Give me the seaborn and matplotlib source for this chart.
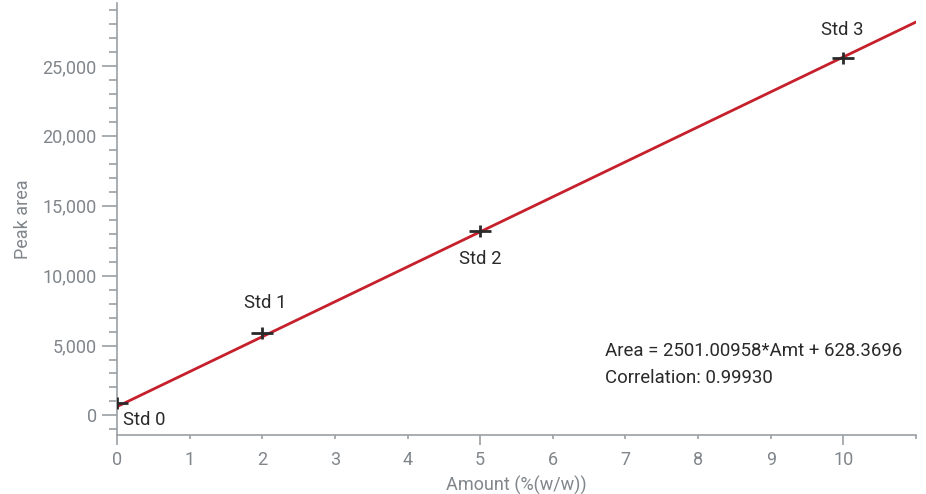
import numpy as np
import pandas as pd
import matplotlib
matplotlib.use("Agg")
import matplotlib.pyplot as plt
import matplotlib.ticker as mticker
from matplotlib.path import Path
import seaborn as sns

# ---- data ----
std_names = ["Std 0", "Std 1", "Std 2", "Std 3"]
amounts = [0, 2, 5, 10]
areas = [860, 5880, 13190, 25560]
slope = 2501.00958
intercept = 628.3696
correlation = 0.99930
fit_range = [0, 11]

sns.set_theme(style="white")
plt.rcParams["font.family"] = ["Roboto", "DejaVu Sans"]

GREY = "#80868b"
SPINE = "#9aa0a6"
RED = "#c5202b"
DARK = "#2a2a2a"

# wide "+" marker (wider than tall)
plus_wide = Path([(-1, 0), (1, 0), (0, -0.55), (0, 0.55)],
                 [Path.MOVETO, Path.LINETO, Path.MOVETO, Path.LINETO])

fig = plt.figure(figsize=(9.26, 4.94), dpi=100)
ax = fig.add_axes([117 / 926, 1 - 435 / 494, (916 - 117) / 926, (435 - 3) / 494])

fit_df = pd.DataFrame({"x": fit_range,
                       "y": [slope * v + intercept for v in fit_range]})
sns.lineplot(data=fit_df, x="x", y="y", color=RED, linewidth=2.0, ax=ax, zorder=2)

pts = pd.DataFrame({"x": amounts, "y": areas, "name": std_names})
sns.scatterplot(data=pts, x="x", y="y", marker=plus_wide, s=260, color=DARK,
                edgecolor=DARK, linewidth=2.0, ax=ax, zorder=3)

# point labels (offset in points)
offsets = {"Std 0": (4, -12, "left"), "Std 1": (2, 22, "center"),
           "Std 2": (0, -20, "center"), "Std 3": (-1, 20, "center")}
for n, xv, yv in zip(std_names, amounts, areas):
    dx, dy, ha = offsets[n]
    ax.annotate(n, (xv, yv), xytext=(dx, dy), textcoords="offset points",
                ha=ha, va="center", fontsize=13.3, color=DARK)

ax.text(605, 494 - 351, f"Area = {slope:.5f}*Amt + {intercept:.4f}",
        transform=None, fontsize=13.4, color=DARK, va="center", ha="left")
ax.text(605, 494 - 378, f"Correlation: {correlation:.5f}",
        transform=None, fontsize=13.4, color=DARK, va="center", ha="left")

ax.set_xlim(0, 11)
ax.set_ylim(-1400, 29500)

for s in ["top", "right"]:
    ax.spines[s].set_visible(False)
for s in ["left", "bottom"]:
    ax.spines[s].set_color(SPINE)
    ax.spines[s].set_linewidth(1.2)

ax.xaxis.set_major_locator(mticker.FixedLocator([0, 5, 10]))
ax.xaxis.set_minor_locator(mticker.FixedLocator([1, 2, 3, 4, 6, 7, 8, 9, 11]))
ax.xaxis.set_minor_formatter(mticker.FixedFormatter(["1", "2", "3", "4", "6", "7", "8", "9", ""]))
ax.yaxis.set_major_locator(mticker.MultipleLocator(5000))
ax.yaxis.set_minor_locator(mticker.MultipleLocator(1000))
ax.yaxis.set_major_formatter(mticker.FuncFormatter(lambda v, p: f"{v:,.0f}"))

ax.tick_params(axis="x", which="major", direction="out", length=7.2, width=1.2,
               color=SPINE, labelcolor=GREY, labelsize=13, pad=4, bottom=True)
ax.tick_params(axis="x", which="minor", direction="out", length=3, width=1.2,
               color=SPINE, labelcolor=GREY, labelsize=13, pad=8.2, bottom=True)
ax.tick_params(axis="y", which="major", direction="out", length=10.5, width=1.2,
               color=SPINE, labelcolor=GREY, labelsize=13, pad=4, left=True)
ax.tick_params(axis="y", which="minor", direction="out", length=6, width=1.2,
               color=SPINE, left=True)

ax.set_xlabel("Amount (%(w/w))", color=GREY, fontsize=13, labelpad=5)
ax.set_ylabel("Peak area", color=GREY, fontsize=13, labelpad=8)

fig.savefig("out.png", dpi=100)
